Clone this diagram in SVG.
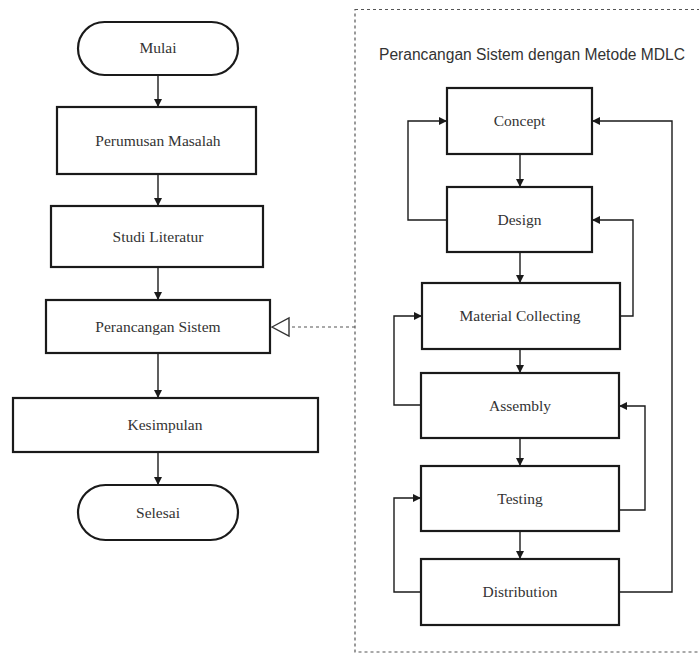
<svg xmlns="http://www.w3.org/2000/svg" width="699" height="654" viewBox="0 0 699 654">
<style>
.box{fill:#fff;stroke:#1a1a1a;stroke-width:2.2}
.t{font-family:"Liberation Serif","Times New Roman",serif;font-size:15.5px;fill:#333;text-anchor:middle}
.c{fill:none;stroke:#1a1a1a;stroke-width:1.4}
.d{fill:none;stroke:#555;stroke-width:1.2;stroke-dasharray:3 3}
</style>
<defs>
<marker id="ah" viewBox="0 0 10 10" refX="10" refY="5" markerWidth="8" markerHeight="8" markerUnits="userSpaceOnUse" orient="auto">
<path d="M0,0 L10,5 L0,10 z" fill="#1a1a1a"/>
</marker>
</defs>
<rect x="355" y="9.5" width="360" height="642.5" class="d"/>
<text x="379" y="60" font-family="'Liberation Sans',Arial,sans-serif" font-size="15.6" fill="#333">Perancangan Sistem dengan Metode MDLC</text>
<g id="connectors">
<path class="c" d="M158,75 V107" marker-end="url(#ah)"/>
<path class="c" d="M158,174 V206" marker-end="url(#ah)"/>
<path class="c" d="M158,267 V300" marker-end="url(#ah)"/>
<path class="c" d="M158,353 V398" marker-end="url(#ah)"/>
<path class="c" d="M158,452 V485" marker-end="url(#ah)"/>
<path class="d" d="M355,327 H289"/>
<polygon points="272,327 289,318 289,336" fill="#fff" stroke="#333" stroke-width="1.4"/>
<path class="c" d="M520,154 V187" marker-end="url(#ah)"/>
<path class="c" d="M520,252 V283" marker-end="url(#ah)"/>
<path class="c" d="M520,349 V373" marker-end="url(#ah)"/>
<path class="c" d="M520,438 V466" marker-end="url(#ah)"/>
<path class="c" d="M520,531 V559" marker-end="url(#ah)"/>
<path class="c" d="M447,220 H408 V121 H447" marker-end="url(#ah)"/>
<path class="c" d="M620,316 H633 V220 H592" marker-end="url(#ah)"/>
<path class="c" d="M421,405 H394 V316 H422" marker-end="url(#ah)"/>
<path class="c" d="M619,510 H645 V406 H619" marker-end="url(#ah)"/>
<path class="c" d="M421,592 H394 V498 H421" marker-end="url(#ah)"/>
<path class="c" d="M619,592 H672 V121 H592" marker-end="url(#ah)"/>
</g>
<g id="mulai"><rect class="box" x="78" y="22" width="160" height="53" rx="26.5"/><text class="t" x="158" y="53">Mulai</text></g>
<g id="perumusan"><rect class="box" x="57" y="107" width="199" height="67"/><text class="t" x="158" y="146">Perumusan Masalah</text></g>
<g id="studi"><rect class="box" x="51" y="206" width="212" height="61"/><text class="t" x="158" y="242">Studi Literatur</text></g>
<g id="perancangan"><rect class="box" x="46" y="300" width="224" height="53"/><text class="t" x="158" y="332">Perancangan Sistem</text></g>
<g id="kesimpulan"><rect class="box" x="13" y="398" width="305" height="54"/><text class="t" x="165" y="430">Kesimpulan</text></g>
<g id="selesai"><rect class="box" x="78" y="485" width="160" height="55" rx="27.5"/><text class="t" x="158" y="518">Selesai</text></g>
<g id="concept"><rect class="box" x="447" y="88" width="145" height="66"/><text class="t" x="519.5" y="126">Concept</text></g>
<g id="design"><rect class="box" x="447" y="187" width="145" height="65"/><text class="t" x="519.5" y="225">Design</text></g>
<g id="material"><rect class="box" x="422" y="283" width="198" height="66"/><text class="t" x="520" y="321">Material Collecting</text></g>
<g id="assembly"><rect class="box" x="421" y="373" width="198" height="65"/><text class="t" x="520" y="411">Assembly</text></g>
<g id="testing"><rect class="box" x="421" y="466" width="198" height="65"/><text class="t" x="520" y="504">Testing</text></g>
<g id="distribution"><rect class="box" x="421" y="559" width="198" height="66"/><text class="t" x="520" y="597">Distribution</text></g>
</svg>
